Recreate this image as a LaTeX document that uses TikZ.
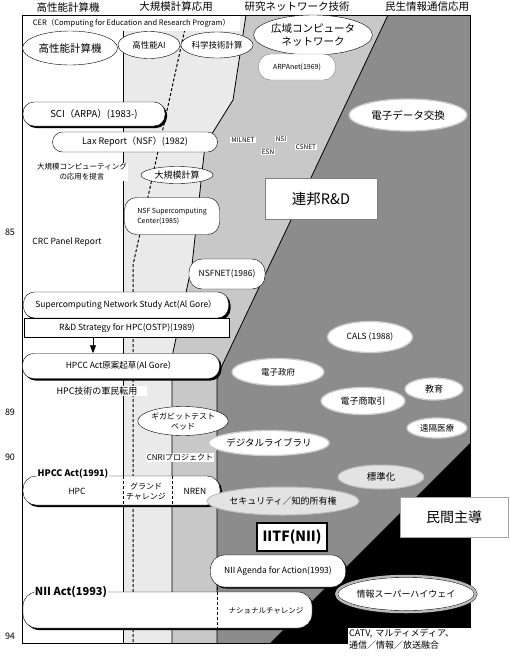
\documentclass[tikz,border=0pt]{standalone}
\usepackage{fontspec}
\setmainfont{Noto Sans CJK JP}
\usetikzlibrary{shapes.geometric,shadows,arrows.meta}
\definecolor{lightdots}{RGB}{234,234,234}
\definecolor{midstipple}{RGB}{200,200,200}
\definecolor{civgrey}{RGB}{140,140,140}

\begin{document}
\begin{tikzpicture}[x=1pt, y=-1pt,
  colhead/.style={font=\fontsize{10.5}{12}\selectfont},
  yearlbl/.style={font=\fontsize{9}{10}\selectfont},
  pill/.style={draw, fill=white, rectangle, rounded corners=11pt, inner sep=1pt},
  heavypill/.style={pill, drop shadow={shadow xshift=2pt, shadow yshift=-2pt, opacity=1, fill=black}},
  oval/.style={draw, fill=white, ellipse, inner sep=0pt},
  civoval/.style={oval, draw=gray!40, line width=1.3pt},
  softoval/.style={oval, fill=gray!22, draw=gray!50, line width=1pt},
  tag/.style={fill=white, inner sep=1pt},
  colsep/.style={line width=1pt, dash pattern=on 3pt off 2pt},
  border/.style={line width=.8pt}]
\useasboundingbox (0,0) rectangle (510,662);

\fill[lightdots] (123,15) -- (246,15) -- (233,100) -- (205,145) -- (192,265) -- (173,352) -- (172,370) -- (172,643) -- (123,643) -- cycle;
\fill[midstipple] (246,15) -- (388,15) -- (219,372) -- (217,380) -- (217,643) -- (172,643) -- (172,370) -- (173,352) -- (192,265) -- (205,145) -- (233,100) -- cycle;
\fill[civgrey] (388,15) -- (470,15) -- (470,443) -- (270,643) -- (217,643) -- (217,380) -- (219,372) -- cycle;
\fill[black] (470,443) -- (470,643) -- (270,643) -- cycle;
\draw[border] (123,15) -- (123,643);
\draw[border] (246,15) -- (233,100) -- (205,145) -- (192,265) -- (173,352) -- (172,370) -- (172,643);
\draw[border] (388,15) -- (219,372) -- (217,380) -- (217,643);
\draw[colsep] (188,15) -- (133,265) -- (133,643);
\draw[border] (22,15) rectangle (470,643);

\node[colhead] (hdhpc) at (68,7) {高性能計算機};
\node[colhead] (hdapp) at (176,7) {大規模計算応用};
\node[colhead] (hdnet) at (297,7) {研究ネットワーク技術};
\node[colhead] (hdciv) at (427,7) {民生情報通信応用};

\node[yearlbl] (y85) at (10,232) {85};
\node[yearlbl] (y89) at (10,412) {89};
\node[yearlbl] (y90) at (10,457) {90};
\node[yearlbl] (y94) at (10,636) {94};

\node[fill=white, inner sep=0pt, minimum width=217pt, minimum height=15pt, font=\fontsize{7.5}{8}\selectfont] (cer) at (131.5,23.5) {CER（Computing for Education and Research Program）};

\node[oval, minimum width=95pt, minimum height=34pt, font=\fontsize{10.5}{12}\selectfont] (hpcm) at (70,48) {高性能計算機};
\node[oval, minimum width=62pt, minimum height=27pt, font=\fontsize{8.5}{10}\selectfont] (hpai) at (149,45) {高性能AI};
\node[oval, minimum width=66pt, minimum height=26pt, font=\fontsize{8.5}{10}\selectfont] (scicomp) at (217,45) {科学技術計算};
\node[oval, minimum width=118pt, minimum height=40pt, align=center, font=\fontsize{10.5}{13}\selectfont] (wan) at (313,35) {広域コンピュータ\\ネットワーク};
\node[pill, draw=gray, rounded corners=12pt, minimum width=77pt, minimum height=26pt, font=\fontsize{7}{8}\selectfont] (arpanet) at (297,67) {ARPAnet(1969)};
\node[civoval, minimum width=118pt, minimum height=32pt, font=\fontsize{10.5}{12}\selectfont] (edi) at (408,115) {電子データ交換};

\node[heavypill, minimum width=142pt, minimum height=24pt, font=\fontsize{9.5}{10}\selectfont] (sci) at (94,114) {SCI（ARPA）(1983-)};
\node[pill, rounded corners=10pt, minimum width=165pt, minimum height=20pt, font=\fontsize{9}{10}\selectfont] (lax) at (135,142) {Lax Report（NSF）(1982)};
\node[tag, align=center, font=\fontsize{7.5}{10}\selectfont] (propose) at (82,172) {大規模コンピューティング\\の応用を提言};
\node[oval, minimum width=72pt, minimum height=17pt, font=\fontsize{9}{10}\selectfont] (largecomp) at (177,175) {大規模計算};

\node[tag, font=\fontsize{6.5}{7}\selectfont] (milnet) at (243,140) {MILNET};
\node[tag, font=\fontsize{6.5}{7}\selectfont] (nsi) at (281,139) {NSI};
\node[tag, font=\fontsize{6.5}{7}\selectfont] (esn) at (268,152) {ESN};
\node[tag, font=\fontsize{6.5}{7}\selectfont] (csnet) at (306,147) {CSNET};

\node[draw=gray, fill=white, minimum width=112pt, minimum height=41pt, font=\fontsize{14.5}{17}\selectfont] (fedrd) at (321,199) {連邦R\&D};
\node[pill, rounded corners=12pt, minimum width=95pt, minimum height=37pt, align=left, font=\fontsize{7}{10}\selectfont] (nsfsc) at (172,216) {NSF Supercomputing\\Center(1985)};
\node[font=\fontsize{8.5}{10}\selectfont] (crc) at (67,242) {CRC Panel Report};
\node[pill, rounded corners=13pt, minimum width=76pt, minimum height=30pt, font=\fontsize{8.5}{10}\selectfont] (nsfnet) at (227,274) {NSFNET(1986)};

\node[heavypill, minimum width=205pt, minimum height=26pt, font=\fontsize{8.5}{10}\selectfont] (scnsa) at (126,305) {Supercomputing Network Study Act(Al Gore）};
\node[draw, fill=white, minimum width=205pt, minimum height=19pt, inner sep=1pt, font=\fontsize{8.5}{10}\selectfont] (rnd) at (127,328) {R\&D Strategy for HPC(OSTP)(1989)};
\node[heavypill, minimum width=197pt, minimum height=25pt, font=\fontsize{8.5}{10}\selectfont] (hpccdraft) at (121,366) {HPCC Act原案起草(Al Gore）};
\draw[border, -{Triangle[length=8pt,width=6pt]}] ([xshift=-34pt]rnd.south) -- ([xshift=-34pt]rnd.south |- hpccdraft.north);
\node[tag, minimum width=100pt, font=\fontsize{9}{10}\selectfont] (milconv) at (97,391) {HPC技術の軍民転用};

\node[civoval, minimum width=85pt, minimum height=31pt, font=\fontsize{8.5}{10}\selectfont] (cals) at (370,337) {CALS (1988)};
\node[civoval, minimum width=92pt, minimum height=27pt, font=\fontsize{8.5}{10}\selectfont] (egov) at (278,372) {電子政府};
\node[civoval, minimum width=84pt, minimum height=27pt, font=\fontsize{9}{10}\selectfont] (ecom) at (363,401) {電子商取引};
\node[civoval, minimum width=58pt, minimum height=22pt, font=\fontsize{9}{10}\selectfont] (edu) at (434,389) {教育};
\node[civoval, minimum width=60pt, minimum height=20pt, font=\fontsize{8.5}{10}\selectfont] (telemed) at (437,428) {遠隔医療};

\node[oval, minimum width=80pt, minimum height=29pt, align=center, font=\fontsize{8}{10}\selectfont] (gigabit) at (183,421) {ギガビットテスト\\ベッド};
\node[civoval, minimum width=110pt, minimum height=25pt, font=\fontsize{9.5}{11}\selectfont] (diglib) at (269,443) {デジタルライブラリ};
\node[tag, font=\fontsize{8}{9}\selectfont] (cnri) at (180,457) {CNRIプロジェクト};

\node[heavypill, rounded corners=13pt, minimum width=197pt, minimum height=29pt] (hpccact) at (121.5,490.5) {};
\draw[colsep, line width=.8pt] (hpccact.north -| 123,0) -- (hpccact.south -| 123,0);
\draw[colsep, line width=.8pt] (hpccact.north -| 172,0) -- (hpccact.south -| 172,0);
\node[tag, font=\bfseries\fontsize{9}{10}\selectfont] (hpccactlbl) at (73,474) {HPCC Act(1991)};
\node[font=\fontsize{8.5}{10}\selectfont] (hpc) at (77,491) {HPC};
\node[align=center, font=\fontsize{8}{10}\selectfont] (grand) at (146,491) {グランド\\チャレンジ};
\node[font=\fontsize{8.5}{10}\selectfont] (nren) at (195,491) {NREN};

\node[softoval, minimum width=86pt, minimum height=24pt, font=\fontsize{9.5}{11}\selectfont] (standard) at (381,477) {標準化};
\node[softoval, minimum width=126pt, minimum height=28pt, font=\fontsize{9}{10}\selectfont] (security) at (283,501) {セキュリティ／知的所有権};
\node[draw=gray!70, fill=white, minimum width=108pt, minimum height=40pt, font=\fontsize{14}{16}\selectfont] (privlead) at (454,517) {民間主導};
\node[draw, line width=2.5pt, fill=white, minimum width=70pt, minimum height=28pt, inner sep=0pt, font=\bfseries\fontsize{14}{16}\selectfont] (iitf) at (292,537) {IITF(NII)};

\node[pill, rounded corners=14pt, drop shadow={shadow xshift=1.5pt, shadow yshift=-1.5pt, opacity=1, fill=black}, minimum width=135pt, minimum height=32pt, font=\fontsize{8.5}{10}\selectfont] (niiagenda) at (278,571) {NII Agenda for Action(1993)};
\node[oval, double=gray!55, double distance=2.5pt, minimum width=128pt, minimum height=36pt, font=\fontsize{9}{10}\selectfont] (superhw) at (406,594) {情報スーパーハイウェイ};

\node[heavypill, rounded corners=14pt, minimum width=289pt, minimum height=36pt] (niiact) at (167.5,610) {};
\draw[colsep, line width=.8pt] (niiagenda.south -| 217,0) -- (niiact.south -| 217,0);
\node[tag, font=\bfseries\fontsize{11}{12}\selectfont] (niiactlbl) at (71,592) {NII Act(1993)};
\node[font=\fontsize{7.5}{9}\selectfont] (natchal) at (266,611) {ナショナルチャレンジ};

\node[tag, anchor=north west, text width=122pt, align=left, font=\fontsize{9}{12}\selectfont] (catv) at (348,628) {CATV, マルティメディア、\\通信／情報／放送融合};
\end{tikzpicture}
\end{document}
